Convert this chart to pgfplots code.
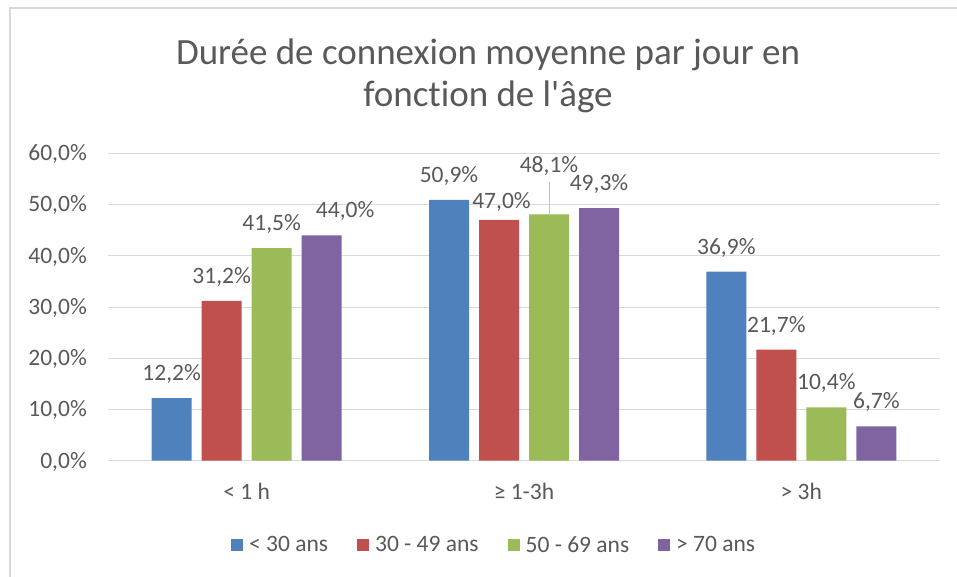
\documentclass[border=0pt]{standalone}
\usepackage{pgfplots}
\pgfplotsset{compat=1.18}
\usepackage{fontspec}
\setmainfont{Carlito}[Ligatures={TeX,NoCommon}]
\definecolor{txt}{HTML}{595959}
\definecolor{gridc}{HTML}{D9D9D9}
\definecolor{cA}{HTML}{4F81BD}
\definecolor{cB}{HTML}{C0504D}
\definecolor{cC}{HTML}{9BBB59}
\definecolor{cD}{HTML}{8064A2}
\newcommand\lab{\fontsize{23.5bp}{27bp}\selectfont}
\begin{document}
\begin{tikzpicture}
\path[use as bounding box] (0,0) rectangle (957bp,-577bp);
\fill[white] (0,0) rectangle (957bp,-577bp);
\draw[gridc, line width=2bp] (10.3bp,-580bp) -- (10.3bp,-7.8bp) -- (960bp,-7.8bp);
\node[anchor=base, text=txt, inner sep=0pt, font=\fontsize{37bp}{42bp}\selectfont] at (488bp,-64bp) {Durée de connexion moyenne par jour en};
\node[anchor=base, text=txt, inner sep=0pt, font=\fontsize{37bp}{42bp}\selectfont] at (488bp,-106bp) {fonction de l\textquotesingle âge};
\begin{axis}[
  at={(108bp,-460.7bp)}, anchor=south west,
  width=832bp, height=307.4bp, scale only axis,
  ybar=10bp, bar width=40bp,
  xmin=-0.5, xmax=2.5, ymin=0, ymax=60,
  xtick={0,1,2}, xticklabels={< 1 h, ≥ 1-3h, > 3h},
  ytick={0,10,...,60},
  /pgf/number format/assume math mode=true,
  yticklabel={\pgfmathprintnumber[fixed,fixed zerofill,precision=1,use comma]{\tick}\%},
  axis x line*=bottom, axis y line*=left,
  y axis line style={draw=none},
  x axis line style={draw=gridc, line width=1bp, -},
  major tick length=0pt,
  ymajorgrids, major grid style={draw=gridc, line width=1bp},
  xticklabel style={anchor=base, yshift=-39bp, font=\lab, text=txt},
  yticklabel style={anchor=base east, inner sep=0pt, xshift=-21bp, yshift=-7.3bp, font=\lab, text=txt},
  clip=false,
  point meta=y,
  visualization depends on={value \thisrow{dx} \as \dx},
  visualization depends on={value \thisrow{dy} \as \dy},
  nodes near coords={\pgfmathprintnumber[fixed,fixed zerofill,precision=1,use comma]{\pgfplotspointmeta}\%},
  every node near coord/.append style={font=\lab, text=txt, anchor=base, inner sep=0pt, xshift=\dx bp, yshift=\dy bp},
  legend image code/.code={\fill[#1] (0bp,-6bp) rectangle (12bp,6bp);},
  legend columns=4,
  legend style={at={(0.1478,-0.2742)}, anchor=west, draw=none, fill=none, font=\lab, text=txt, inner sep=0pt,
    /tikz/every odd column/.append style={column sep=4bp},
    /tikz/every even column/.append style={column sep=27bp}},
]
\addplot[fill=cA, draw=none] table[row sep=\\] {x y dx dy\\ 0 12.2 0 17.5\\ 1 50.9 0 17.5\\ 2 36.9 0 17.5\\};
\addplot[fill=cB, draw=none] table[row sep=\\] {x y dx dy\\ 0 31.2 0 17.5\\ 1 47.0 2.5 11\\ 2 21.7 0 17.5\\};
\addplot[fill=cC, draw=none] table[row sep=\\] {x y dx dy\\ 0 41.5 0 17.5\\ 1 48.1 0 41.3\\ 2 10.4 0 17.5\\};
\addplot[fill=cD, draw=none] table[row sep=\\] {x y dx dy\\ 0 44.0 23.5 17.5\\ 1 49.3 0 17.5\\ 2 6.7 0 17.5\\};
\legend{< 30 ans, 30 - 49 ans, 50 - 69 ans, > 70 ans}
\draw[color=gridc!60!black!50, line width=1bp] ([xshift=25bp]axis cs:1,48.1) -- ([xshift=25bp]axis cs:1,54.4);
\end{axis}
\end{tikzpicture}
\end{document}
